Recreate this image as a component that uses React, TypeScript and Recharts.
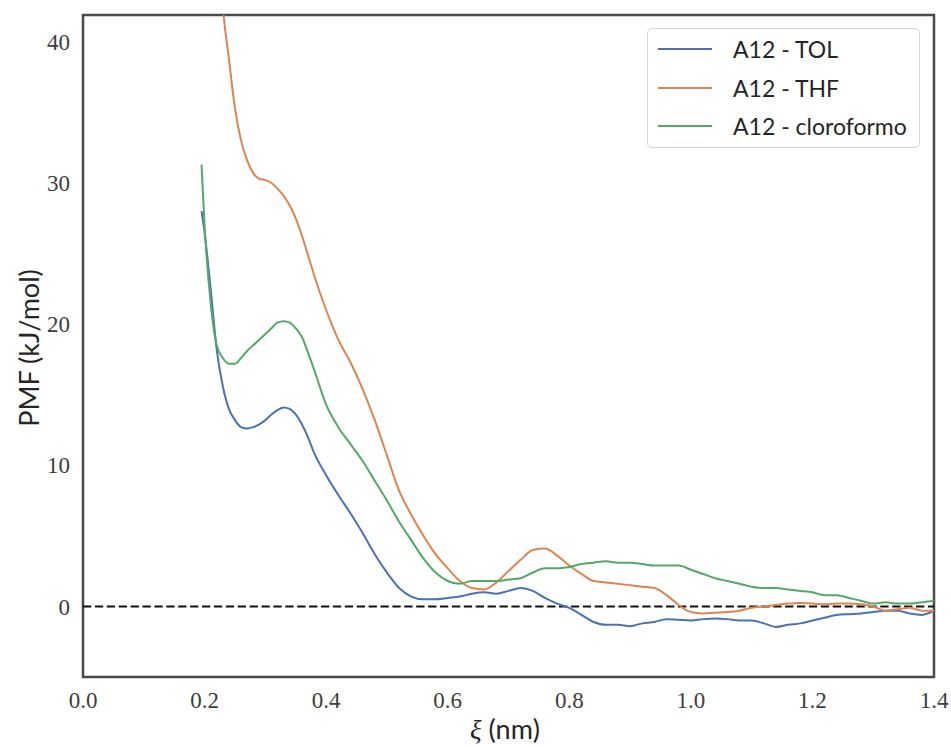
import {
  LineChart,
  Line,
  XAxis,
  YAxis,
  ReferenceLine,
  ReferenceArea,
} from "recharts";

// reaction coordinate ξ (nm)
const XI = [
  0.195, 0.2, 0.21, 0.22, 0.225, 0.23, 0.24, 0.25, 0.26, 0.27, 0.28, 0.29, 0.3,
  0.31, 0.32, 0.33, 0.34, 0.35, 0.36, 0.37, 0.38,
  0.4, 0.42, 0.44, 0.46, 0.48, 0.5, 0.52, 0.54, 0.56, 0.58, 0.6, 0.62, 0.64,
  0.66, 0.68, 0.7, 0.72, 0.74, 0.76, 0.78, 0.8, 0.82, 0.84, 0.86, 0.88, 0.9,
  0.92, 0.94, 0.96, 0.98, 1.0, 1.02, 1.04, 1.06, 1.08, 1.1, 1.12, 1.14, 1.16,
  1.18, 1.2, 1.22, 1.24, 1.26, 1.28, 1.3, 1.32, 1.34, 1.36, 1.38, 1.4,
];

// PMF (kJ/mol) per solvent
const TOL = [
  28.0, 26.5, 22.5, 18.2, null, 15.6, 14.0, 13.2, 12.7, 12.6, 12.7, 12.9, 13.2,
  13.6, 13.9, 14.1, 14.0, 13.6, 12.9, 12.0, 10.9,
  9.3, 7.9, 6.6, 5.2, 3.7, 2.4, 1.3, 0.7, 0.5, 0.5, 0.6, 0.7, 0.9, 1.0, 0.9,
  1.1, 1.3, 1.1, 0.6, 0.2, -0.1, -0.6, -1.1, -1.3, -1.3, -1.4, -1.2, -1.1,
  -0.9, -0.95, -1.0, -0.9, -0.85, -0.9, -1.0, -1.0, -1.2, -1.45, -1.3, -1.2,
  -1.0, -0.8, -0.6, -0.55, -0.5, -0.4, -0.3, -0.3, -0.5, -0.6, -0.3,
];

const THF = [
  null, null, null, null, 45.5, 42.5, 38.8, 35.3, 33.0, 31.6, 30.7, 30.3, 30.2,
  30.0, 29.6, 29.1, 28.4, 27.5, 26.3, 24.9, 23.5,
  21.0, 18.9, 17.3, 15.4, 13.2, 10.7, 8.2, 6.5, 5.0, 3.7, 2.7, 1.8, 1.3, 1.2,
  1.7, 2.5, 3.3, 4.0, 4.1, 3.6, 2.9, 2.3, 1.8, 1.7, 1.6, 1.5, 1.4, 1.3, 0.8,
  0.1, -0.4, -0.5, -0.45, -0.4, -0.3, -0.1, 0.0, 0.1, 0.2, 0.25, 0.2, 0.15,
  0.2, 0.2, 0.15, 0.0, -0.3, -0.2, -0.1, -0.3, -0.3,
];

const CLORO = [
  31.3, 27.0, 21.5, 18.5, null, 17.6, 17.2, 17.2, 17.6, 18.1, 18.5, 18.9, 19.3,
  19.7, 20.1, 20.2, 20.1, 19.7, 19.1, 18.0, 16.8,
  14.3, 12.7, 11.5, 10.3, 8.9, 7.5, 6.0, 4.7, 3.4, 2.4, 1.8, 1.6, 1.8, 1.8,
  1.8, 1.9, 2.0, 2.4, 2.7, 2.7, 2.8, 3.0, 3.1, 3.2, 3.1, 3.1, 3.0, 2.9, 2.9,
  2.9, 2.6, 2.3, 2.0, 1.8, 1.6, 1.4, 1.3, 1.3, 1.2, 1.1, 1.0, 0.8, 0.8, 0.6,
  0.4, 0.2, 0.3, 0.2, 0.2, 0.3, 0.4,
];

const X_TICKS = [0, 0.2, 0.4, 0.6, 0.8, 1.0, 1.2, 1.4];
const Y_TICKS = [0, 10, 20, 30, 40];

const SERIES = [
  { key: "tol", name: "A12 - TOL", color: "#4c72b0" },
  { key: "thf", name: "A12 - THF", color: "#dd8452" },
  { key: "cloro", name: "A12 - cloroformo", color: "#55a868" },
];

const data = XI.map((xi, i) => ({
  xi,
  tol: TOL[i],
  thf: THF[i],
  cloro: CLORO[i],
}));

const tickStyle = {
  fontSize: 23,
  fill: "#3d3d3d",
  fontFamily: "'Liberation Serif', serif",
};

const sans = "Lato, 'Noto Sans', sans-serif";

// legend drawn as a plain overlay so it does not eat plot space
function LegendBox() {
  return (
    <div
      style={{
        position: "absolute",
        left: 647,
        top: 28,
        width: 273,
        height: 120,
        border: "1px solid #d6d6d6",
        borderRadius: 5,
        background: "rgba(255,255,255,0.85)",
        paddingTop: 1,
        boxSizing: "border-box",
      }}
    >
      {SERIES.map((s) => (
        <div
          key={s.key}
          style={{ display: "flex", alignItems: "center", height: 38.5 }}
        >
          <svg width={85} height={10} style={{ flex: "none" }}>
            <line x1={10} x2={64} y1={5} y2={5} stroke={s.color} strokeWidth={2} />
          </svg>
          <span style={{ fontFamily: sans, fontSize: 23, color: "#262626" }}>
            {s.name}
          </span>
        </div>
      ))}
    </div>
  );
}

export default function App() {
  return (
    <div style={{ position: "absolute", left: 0, top: 0, background: "#fff" }}>
      <LineChart
        width={951}
        height={747}
        data={data}
        margin={{ top: 15, right: 17, bottom: 0, left: 0 }}
      >
        <XAxis
          dataKey="xi"
          type="number"
          domain={[0, 1.4]}
          ticks={X_TICKS}
          tickFormatter={(v: number) => v.toFixed(1)}
          tick={tickStyle}
          axisLine={false}
          tickLine={false}
          tickMargin={9}
          height={70}
          label={{
            content: () => (
              <text x={505} y={739} textAnchor="middle" fontSize={27} fill="#262626">
                <tspan fontFamily="'Liberation Serif', serif" fontStyle="italic">ξ</tspan>
                <tspan fontFamily={sans}> (nm)</tspan>
              </text>
            ),
          }}
        />
        <YAxis
          type="number"
          domain={[-5, 41.9]}
          ticks={Y_TICKS}
          allowDataOverflow
          tick={tickStyle}
          axisLine={false}
          tickLine={false}
          tickMargin={7}
          width={83}
          label={{
            content: () => (
              <text
                transform="translate(39,348) rotate(-90)"
                textAnchor="middle"
                fontSize={27}
                fontFamily={sans}
                fill="#262626"
              >
                PMF (kJ/mol)
              </text>
            ),
          }}
        />
        <ReferenceLine y={0} stroke="#111" strokeWidth={2} strokeDasharray="8.3 3.6" />
        {SERIES.map((s) => (
          <Line
            key={s.key}
            type="monotone"
            dataKey={s.key}
            name={s.name}
            stroke={s.color}
            strokeWidth={2}
            dot={false}
            connectNulls
            isAnimationActive={false}
          />
        ))}
        <ReferenceArea
          x1={0}
          x2={1.4}
          y1={-5}
          y2={41.9}
          fill="none"
          stroke="#4a4a4a"
          strokeWidth={2.5}
          ifOverflow="visible"
        />
      </LineChart>
      <LegendBox />
    </div>
  );
}
